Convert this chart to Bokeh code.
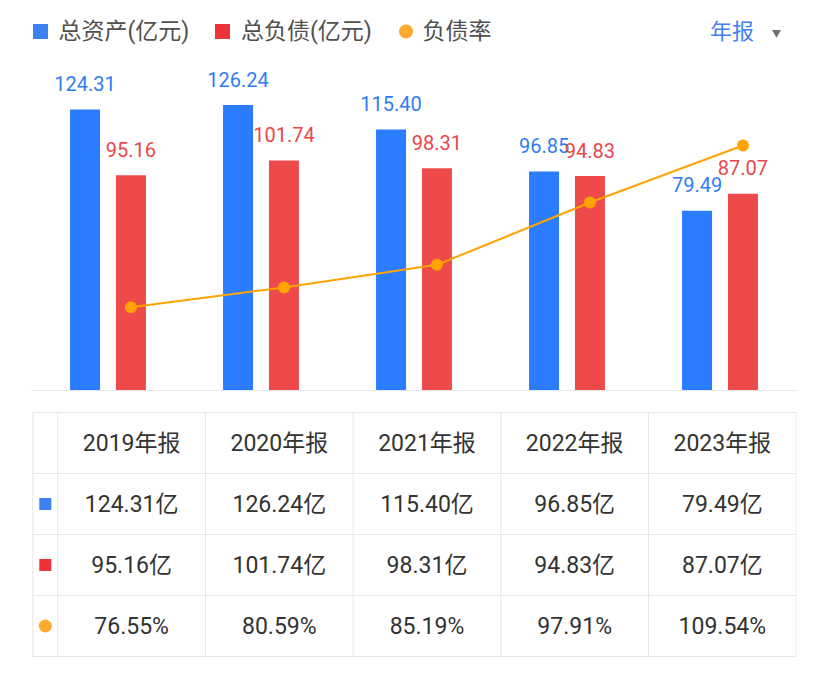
from bokeh.plotting import figure
from bokeh.models import Range1d, ColumnDataSource, FactorRange, Span
from bokeh.transform import dodge
from bokeh.layouts import column
from bokeh.embed import file_html
from bokeh.resources import INLINE
from bokeh.core.properties import value

# ---------------- data ----------------
years = ["2019", "2020", "2021", "2022", "2023"]
period_labels = ["2019年报", "2020年报", "2021年报", "2022年报", "2023年报"]
total_assets = [124.31, 126.24, 115.40, 96.85, 79.49]        # 总资产(亿元)
total_liabilities = [95.16, 101.74, 98.31, 94.83, 87.07]     # 总负债(亿元)
debt_ratio = [76.55, 80.59, 85.19, 97.91, 109.54]            # 负债率(%)
series_names = ["总资产(亿元)", "总负债(亿元)", "负债率"]
period_selector = "年报"

# ---------------- style ----------------
FONT = "Roboto, 'Noto Sans CJK SC', sans-serif"
BAR_BLUE = "#2B7CFF"
BAR_RED = "#EF4A4A"
LBL_BLUE = "#2F7CF6"
LBL_RED = "#EB4649"
LINE_OR = "#FFA300"
LEG_BLUE = "#3D80EF"
LEG_RED = "#EE3338"
LEG_OR = "#FDAA2F"
TXT_LEG = "#505050"
TXT_TAB = "#333333"
GRID = "#E6E6E6"
W = 828
FL, FR = 31, 796   # frame left / right (page px), shared by all rows


def base_fig(**kw):
    f = figure(x_axis_location=None, y_axis_location=None,
               toolbar_location=None, output_backend="svg",
               min_border_left=FL, min_border_right=W - FR, **kw)
    f.outline_line_color = None
    f.grid.visible = False
    f.background_fill_color = "white"
    f.border_fill_color = "white"
    return f


# ---------------- legend strip ----------------
LEG_H = 66
lg = base_fig(width=W, height=LEG_H,
              x_range=Range1d(FL, FR), y_range=Range1d(LEG_H, 0),
              min_border_top=0, min_border_bottom=0)
lg.scatter(x=[40, 222], y=[31, 31], marker="square", size=15,
           fill_color=[LEG_BLUE, LEG_RED], line_color=None)
lg.scatter(x=[405.5], y=[31], marker="circle", size=14,
           fill_color=LEG_OR, line_color=None)
lg.text(x=[58, 240.5, 422], y=[31, 31, 31], text=series_names,
        text_align="left", text_baseline="middle",
        text_font=value(FONT), text_font_size="23px", text_color=TXT_LEG)
lg.text(x=[709.5], y=[31], text=[period_selector],
        text_align="left", text_baseline="middle",
        text_font=value(FONT), text_font_size="22px", text_color="#3F80F2")
lg.scatter(x=[776], y=[32], marker="inverted_triangle", size=9,
           fill_color="#707070", line_color=None)

# ---------------- chart ----------------
PX = 2.261      # pixels per 亿元
CH_H = 342
FRAME_H = CH_H - 17

src = ColumnDataSource(dict(
    year=years,
    assets=total_assets,
    liab=total_liabilities,
    rate=debt_ratio,
    assets_lbl=[f"{v:.2f}" for v in total_assets],
    liab_lbl=[f"{v:.2f}" for v in total_liabilities],
))

p = base_fig(width=W, height=CH_H, x_range=FactorRange(*years),
             y_range=Range1d(-1 / PX, (FRAME_H - 1) / PX),
             min_border_top=0, min_border_bottom=17)
p.extra_y_ranges = {"rate": Range1d(59.35, 125.66)}

BW = 30 / 153
OFF = 0.15

p.add_layout(Span(location=0, dimension="width", line_color=GRID, line_width=1))

p.vbar(x=dodge("year", -OFF, range=p.x_range), top="assets", width=BW,
       source=src, fill_color=BAR_BLUE, line_color=None)
p.vbar(x=dodge("year", OFF, range=p.x_range), top="liab", width=BW,
       source=src, fill_color=BAR_RED, line_color=None)

p.text(x=dodge("year", -OFF, range=p.x_range), y="assets", text="assets_lbl",
       source=src, text_align="center", text_baseline="alphabetic",
       y_offset=-26, text_font=value(FONT), text_font_size="20px",
       text_color=LBL_BLUE)
p.text(x=dodge("year", OFF, range=p.x_range), y="liab", text="liab_lbl",
       source=src, text_align="center", text_baseline="alphabetic",
       y_offset=-26, text_font=value(FONT), text_font_size="20px",
       text_color=LBL_RED)

p.line(x=dodge("year", OFF, range=p.x_range), y="rate", source=src,
       y_range_name="rate", line_color=LINE_OR, line_width=2)
p.scatter(x=dodge("year", OFF, range=p.x_range), y="rate", source=src,
          y_range_name="rate", size=12, marker="circle",
          fill_color=LINE_OR, line_color=None)

# ---------------- table ----------------
COL_W = 147.7
MARK_W = 25
ROW_H = 61
n = len(years)
nrows = 4
mx = -MARK_W / COL_W

t = base_fig(width=W, height=266,
             x_range=Range1d(-(MARK_W + 1.3) / COL_W, n + 0.3 / COL_W),
             y_range=Range1d(nrows + 1 / ROW_H, -1 / ROW_H),
             min_border_top=3, min_border_bottom=17)

vx = [mx] + list(range(n + 1))
t.segment(x0=vx, y0=[0] * len(vx), x1=vx, y1=[nrows] * len(vx),
          line_color=GRID, line_width=1)
hy = list(range(nrows + 1))
t.segment(x0=[mx] * len(hy), y0=hy, x1=[n] * len(hy), y1=hy,
          line_color=GRID, line_width=1)

cx = [i + 0.5 for i in range(n)]
rows_text = [
    period_labels,
    [f"{v:.2f}亿" for v in total_assets],
    [f"{v:.2f}亿" for v in total_liabilities],
    [f"{v:.2f}%" for v in debt_ratio],
]
for r, texts in enumerate(rows_text):
    t.text(x=cx, y=[r + 0.5] * n, text=texts, text_align="center",
           text_baseline="middle", text_font=value(FONT),
           text_font_size="23px", text_color=TXT_TAB)

t.scatter(x=[mx / 2, mx / 2], y=[1.5, 2.5], marker="square", size=12,
          fill_color=[LEG_BLUE, LEG_RED], line_color=None)
t.scatter(x=[mx / 2], y=[3.5], marker="circle", size=13,
          fill_color=LEG_OR, line_color=None)

layout = column(lg, p, t, spacing=0)
open("out.html", "w").write(file_html(layout, INLINE))
